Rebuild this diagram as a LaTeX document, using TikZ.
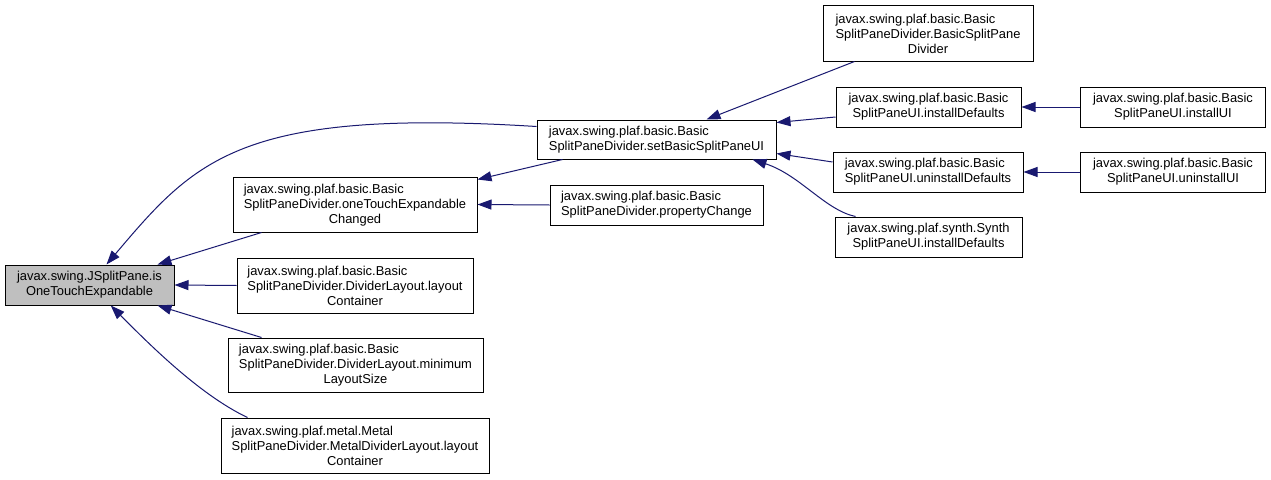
\documentclass[tikz,border=0pt]{standalone}
\usepackage{fontspec}
\setmainfont{Liberation Sans}
\usetikzlibrary{arrows.meta}
\newcommand{\leftpair}[2]{\begin{tabular}[b]{@{}l@{}}#1\\#2\end{tabular}}

\begin{document}
\begin{tikzpicture}[x=1pt, y=-1pt,
		fn/.style={draw=black, fill=white, line width=1pt, inner sep=0pt, align=center, font=\fontsize{12.9}{15}\selectfont},
		focus/.style={fn, fill=focusgray},
		call/.style={draw=edgeblue, line width=1pt, -{Triangle[length=14pt, width=10pt]}}
		]
		\definecolor{edgeblue}{HTML}{191970}
		\definecolor{focusgray}{HTML}{BFBFBF}
		
		\fill[white] (0,0) rectangle (1271,479);
		\useasboundingbox (0,0) rectangle (1271,479);
		
		% Callee
		\node[focus, minimum width=169, minimum height=40] (jsp) at (89.5,285) {javax.swing.JSplitPane.is\\OneTouchExpandable};
		
		% Direct callers
		\node[fn, minimum width=244, minimum height=55] (otc) at (355,204.5) {\leftpair{javax.swing.plaf.basic.Basic}{SplitPaneDivider.oneTouchExpandable}\\Changed};
		\node[fn, minimum width=236, minimum height=55] (dlc) at (355,285.5) {\leftpair{javax.swing.plaf.basic.Basic}{SplitPaneDivider.DividerLayout.layout}\\Container};
		\node[fn, minimum width=255, minimum height=54] (dlm) at (355.5,365) {\leftpair{javax.swing.plaf.basic.Basic}{SplitPaneDivider.DividerLayout.minimum}\\LayoutSize};
		\node[fn, minimum width=268, minimum height=55] (mlc) at (355,445.5) {\leftpair{javax.swing.plaf.metal.Metal}{SplitPaneDivider.MetalDividerLayout.layout}\\Container};
		
		% Second column
		\node[fn, minimum width=239, minimum height=39] (sbu) at (656.5,139.5) {\leftpair{javax.swing.plaf.basic.Basic}{SplitPaneDivider.setBasicSplitPaneUI}};
		\node[fn, minimum width=213, minimum height=40] (pch) at (656.5,205) {\leftpair{javax.swing.plaf.basic.Basic}{SplitPaneDivider.propertyChange}};
		
		% Third column
		\node[fn, minimum width=210, minimum height=56] (ctor) at (928,33) {\leftpair{javax.swing.plaf.basic.Basic}{SplitPaneDivider.BasicSplitPane}\\Divider};
		\node[fn, minimum width=185, minimum height=40] (ind) at (928.5,107) {javax.swing.plaf.basic.Basic\\SplitPaneUI.installDefaults};
		\node[fn, minimum width=190, minimum height=40] (und) at (928,172) {\leftpair{javax.swing.plaf.basic.Basic}{SplitPaneUI.uninstallDefaults}};
		\node[fn, minimum width=187, minimum height=40] (syn) at (928.5,237) {javax.swing.plaf.synth.Synth\\SplitPaneUI.installDefaults};
		
		% Fourth column
		\node[fn, minimum width=185, minimum height=40] (iui) at (1173,107) {javax.swing.plaf.basic.Basic\\SplitPaneUI.installUI};
		\node[fn, minimum width=185, minimum height=40] (uui) at (1173,172) {javax.swing.plaf.basic.Basic\\SplitPaneUI.uninstallUI};
		
		% Edges into the callee
		\draw[call] ([yshift=13pt]sbu.west) .. controls (240,108) and (195,160) .. ([xshift=17pt]jsp.north);
		\draw[call] ([xshift=29pt]otc.south west) -- ([xshift=-17pt]jsp.north east);
		\draw[call] (dlc.west) -- (jsp.east);
		\draw[call] ([xshift=34pt]dlm.north west) -- ([xshift=-17pt]jsp.south east);
		\draw[call] ([xshift=27pt]mlc.north west) .. controls (200,395) and (150,345) .. (jsp.-44);
		
		% Edges into the second column
		\draw[call] ([xshift=26pt]sbu.south west) -- ([yshift=-3pt]otc.north east);
		\draw[call] (pch.west) -- (otc.east);
		\draw[call] ([xshift=32pt]ctor.south west) -- ([xshift=50pt]sbu.north);
		\draw[call] ([yshift=-10pt]ind.west) -- ([yshift=-3pt]sbu.north east);
		\draw[call] ([yshift=10pt]und.west) -- ([yshift=6pt]sbu.south east);
		\draw[call] ([xshift=-73pt]syn.north) .. controls (825,210) and (800,175) .. ([xshift=96pt]sbu.south);
		
		% Edges into the third column
		\draw[call] (iui.west) -- (ind.east);
		\draw[call] (uui.west) -- (und.east);
		
	\end{tikzpicture}
\end{document}
